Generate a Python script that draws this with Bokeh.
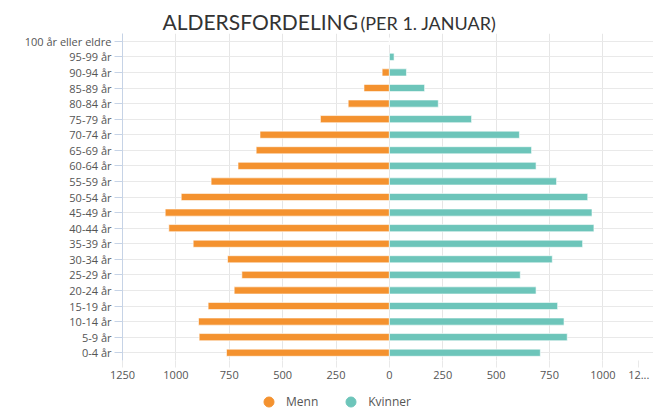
from bokeh.plotting import figure
from bokeh.layouts import column
from bokeh.models import (ColumnDataSource, FixedTicker, Label, Legend, LegendItem,
                          Range1d, FactorRange)
from bokeh.embed import file_html
from bokeh.resources import INLINE

# ---- data ----
age_groups = ["0-4 år", "5-9 år", "10-14 år", "15-19 år", "20-24 år", "25-29 år",
              "30-34 år", "35-39 år", "40-44 år", "45-49 år", "50-54 år", "55-59 år",
              "60-64 år", "65-69 år", "70-74 år", "75-79 år", "80-84 år", "85-89 år",
              "90-94 år", "95-99 år", "100 år eller eldre"]
menn = [763, 891, 894, 849, 727, 691, 758, 919, 1033, 1050, 975, 835,
        709, 624, 606, 323, 193, 119, 34, 0, 0]
kvinner = [707, 833, 818, 788, 687, 613, 763, 905, 958, 949, 929, 783,
           687, 666, 609, 385, 229, 165, 80, 22, 0]
x_ticks = [-1250, -1000, -750, -500, -250, 0, 250, 500, 750, 1000]
x_tick_labels = {t: str(abs(t)) for t in x_ticks}
series_names = ["Menn", "Kvinner"]
title_main = "ALDERSFORDELING"
title_sub = "(PER 1. JANUAR)"
clipped_tick = "12..."   # the 1250 tick label, truncated at the right edge
clipped_tick_pos = 1168  # where the truncated label sits inside the axis

ORANGE = "#F4922F"
TEAL = "#6DC5BA"
FONT = "Open Sans"
W = 653
TITLE_H = 33

# ---------------- title strip (frame aligned with main chart, left at 122px) ----------------
tf = figure(width=W, height=TITLE_H, output_backend="svg", toolbar_location=None,
            x_axis_type=None, y_axis_type=None, x_range=Range1d(0, 1), y_range=Range1d(0, 1),
            min_border=0)
tf.outline_line_color = None
tf.add_layout(Label(x=40, y=12, x_units="screen", y_units="screen", text=title_main,
                    text_font="Lato", text_font_size="21px", text_color="#333333",
                    text_baseline="alphabetic"))
tf.add_layout(Label(x=238, y=11, x_units="screen", y_units="screen", text=title_sub,
                    text_font="Lato", text_font_size="18px", text_color="#333333",
                    text_baseline="alphabetic"))

# ---------------- main chart ----------------
src = ColumnDataSource(dict(
    age=age_groups,
    menn_neg=[-v for v in menn],
    kvinner=kvinner,
))

p = figure(width=W, height=388 - TITLE_H, output_backend="svg", toolbar_location=None,
           y_range=FactorRange(*age_groups, range_padding=0),
           x_range=Range1d(-1250, 1237),
           min_border_left=122, min_border_top=0, min_border_right=0,
           min_border_bottom=28)
p.outline_line_color = None

p.hbar(y="age", left="menn_neg", right=0, height=0.46, source=src,
       fill_color=ORANGE, line_color="white", line_width=0.6)
p.hbar(y="age", left=0, right="kvinner", height=0.46, source=src,
       fill_color=TEAL, line_color="white", line_width=0.6)

p.xaxis.ticker = FixedTicker(ticks=x_ticks + [clipped_tick_pos])
p.xaxis.major_label_overrides = {**x_tick_labels, clipped_tick_pos: clipped_tick}
p.xaxis.axis_line_color = None
p.xaxis.major_tick_line_color = "#e9e9e9"
p.xaxis.major_tick_out = 7
p.xaxis.major_tick_in = 0
p.xaxis.minor_tick_line_color = None
p.xaxis.major_label_standoff = 3
p.xaxis.major_label_text_font = FONT
p.xaxis.major_label_text_font_size = "11px"
p.xaxis.major_label_text_color = "#555555"

p.yaxis.axis_line_color = "#c6d3e6"
p.yaxis.major_tick_line_color = "#c6d3e6"
p.yaxis.major_tick_out = 8
p.yaxis.major_tick_in = 0
p.yaxis.major_label_standoff = 3
p.yaxis.major_label_text_font = FONT
p.yaxis.major_label_text_font_size = "11px"
p.yaxis.major_label_text_color = "#555555"

p.xgrid.ticker = FixedTicker(ticks=x_ticks)
p.xgrid.grid_line_color = "#e6e6e6"
p.ygrid.grid_line_color = "#e9e9e9"

# ---------------- legend strip ----------------
lf = figure(width=W, height=26, output_backend="svg", toolbar_location=None,
            x_axis_type=None, y_axis_type=None, x_range=Range1d(0, 1), y_range=Range1d(0, 1),
            min_border=0)
lf.outline_line_color = None
# legend keys only: the single point lies outside the strip's visible range
r1 = lf.scatter(x=[-5], y=[-5], marker="circle", size=12, fill_color=ORANGE, line_color=ORANGE)
r2 = lf.scatter(x=[-5], y=[-5], marker="circle", size=12, fill_color=TEAL, line_color=TEAL)
legend = Legend(items=[LegendItem(label=series_names[0], renderers=[r1]),
                       LegendItem(label=series_names[1], renderers=[r2])],
                orientation="horizontal", location=(134, 0),
                border_line_color=None, background_fill_alpha=0,
                label_text_font=FONT, label_text_font_size="12px",
                label_text_color="#555555", spacing=20, padding=0, margin=0,
                glyph_width=25, glyph_height=25, label_standoff=5)
lf.add_layout(legend, "center")

layout = column(tf, p, lf, spacing=0)
open("out.html", "w").write(file_html(layout, INLINE))
